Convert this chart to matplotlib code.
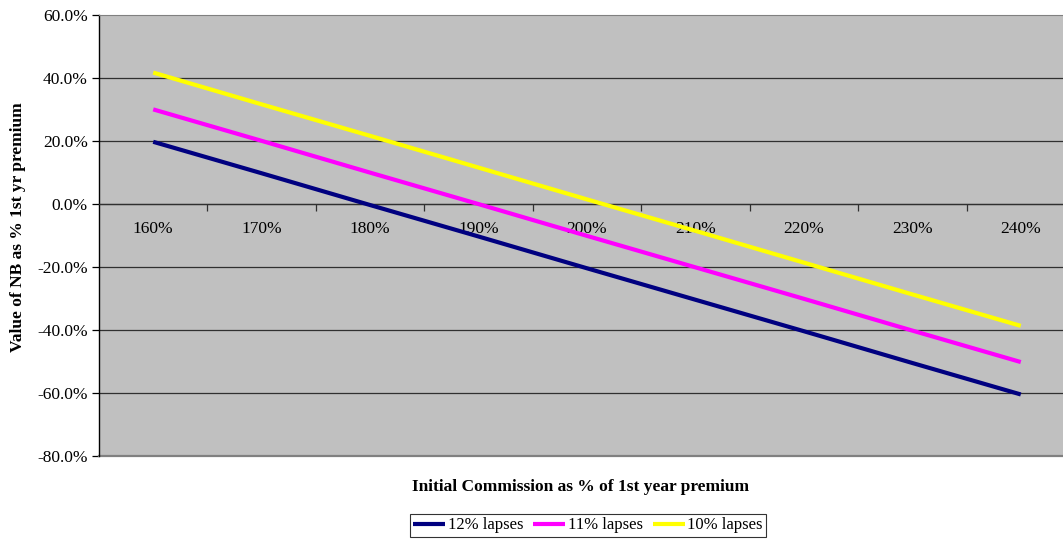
import matplotlib
matplotlib.use("Agg")
import matplotlib.pyplot as plt
from matplotlib.ticker import FuncFormatter, FixedLocator

categories = ["160%", "170%", "180%", "190%", "200%", "210%", "220%", "230%", "240%"]
lapses_12 = [19.7, 9.7, -0.4, -10.4, -20.5, -30.5, -40.5, -50.6, -60.6]
lapses_11 = [30.0, 20.0, 9.9, -0.1, -10.2, -20.2, -30.2, -40.3, -50.3]
lapses_10 = [41.7, 31.6, 21.6, 11.5, 1.4, -8.6, -18.7, -28.8, -38.8]
series_names = ["12% lapses", "11% lapses", "10% lapses"]
series_colors = ["#000080", "#FF00FF", "#FFFF00"]
y_ticks = [-80, -60, -40, -20, 0, 20, 40, 60]

plt.rcParams['font.family'] = ['Liberation Serif', 'DejaVu Serif']

W, H = 1063, 540
fig = plt.figure(figsize=(W / 100, H / 100), dpi=100)
left, right, top, bottom = 99, 1075, 15, 455.5
ax = fig.add_axes([left / W, 1 - bottom / H, (right - left) / W, (bottom - top) / H])
ax.set_facecolor("#C0C0C0")

x = list(range(len(categories)))
for vals, name, col in zip([lapses_12, lapses_11, lapses_10], series_names, series_colors):
    ax.plot(x, vals, color=col, lw=3.0, label=name, solid_capstyle='butt', zorder=3)

ax.set_xlim(-0.5, len(categories) - 0.5)
ax.set_ylim(-80, 60)

# horizontal gridlines
for yv in y_ticks:
    if yv in (-80, 60):
        continue
    ax.axhline(yv, color="#303030", lw=0.9, zorder=1)

# spines
ax.spines['top'].set_color("#808080")
ax.spines['right'].set_color("#808080")
ax.spines['left'].set_color("black")
ax.spines['left'].set_linewidth(1.0)
ax.spines['bottom'].set_position(('data', 0))
ax.spines['bottom'].set_color("#303030")
ax.spines['bottom'].set_linewidth(0.9)
ax.axhline(-80, color="#808080", lw=1.6, zorder=2, clip_on=False)

# x axis: labels at category centres, ticks at boundaries
ax.xaxis.set_major_locator(FixedLocator(x))
ax.set_xticklabels(categories, fontsize=12.5)
ax.xaxis.set_minor_locator(FixedLocator([i + 0.5 for i in x[:-1]]))
ax.tick_params(axis='x', which='major', length=0, pad=12.5)
ax.tick_params(axis='x', which='minor', length=5, width=0.9, direction='out', color="#303030")

# y axis
ax.set_yticks(y_ticks)
ax.yaxis.set_major_formatter(FuncFormatter(lambda v, p: f"{v:.1f}%"))
ax.tick_params(axis='y', length=5, width=0.9, direction='out', labelsize=12.5, pad=3, colors='black')

fig.text(18.5 / W, 1 - 227 / H, "Value of NB as % 1st yr premium", rotation=90,
         ha='center', va='center', fontsize=12.5, fontweight='bold')
fig.text(580.5 / W, 1 - 487 / H, "Initial Commission as % of 1st year premium",
         ha='center', va='center', fontsize=12.5, fontweight='bold')

leg = fig.legend(loc='upper center', bbox_to_anchor=(588 / W, 1 - 514 / H), ncol=3,
                 frameon=True, fancybox=False, edgecolor='black', fontsize=12,
                 handlelength=1.92, handletextpad=0.15, columnspacing=0.6,
                 borderpad=0.2, borderaxespad=0)
leg.get_frame().set_linewidth(0.8)
for ln in leg.get_lines():
    ln.set_linewidth(3.0)

fig.savefig("out.png", dpi=100)
